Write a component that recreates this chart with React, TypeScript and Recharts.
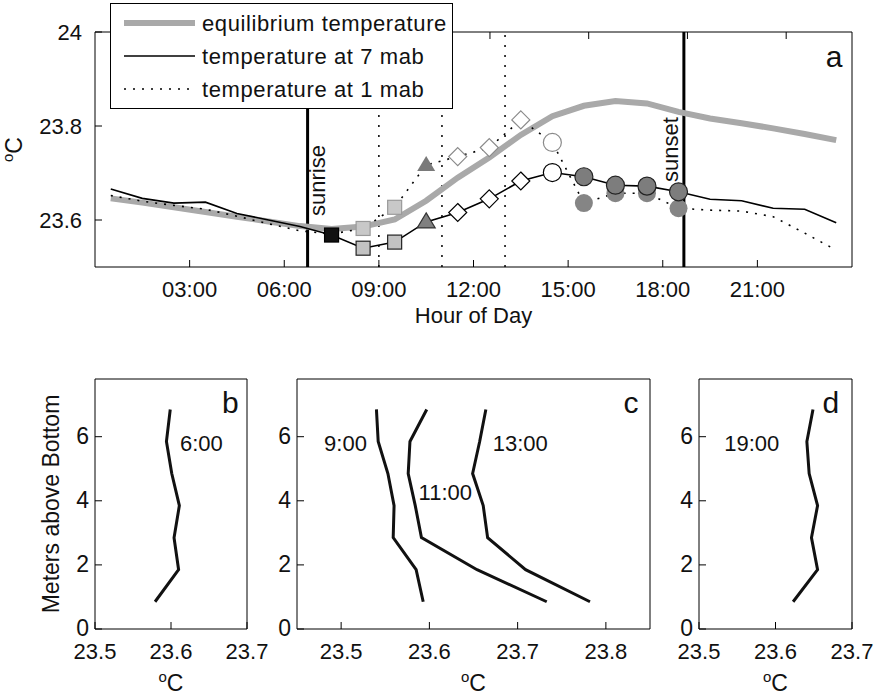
import React from 'react';
import { ComposedChart, LineChart, Line, XAxis, YAxis, ReferenceLine, ReferenceDot, Legend } from 'recharts';

const FONT = '"Liberation Sans", Arial, Helvetica, sans-serif';

// ---- panel a: daily cycle, one value at half past each hour ----
const hours = [0.5, 1.5, 2.5, 3.5, 4.5, 5.5, 6.5, 7.5, 8.5, 9.5, 10.5, 11.5, 12.5, 13.5, 14.5, 15.5, 16.5, 17.5, 18.5, 19.5, 20.5, 21.5, 22.5, 23.5];
const equilibriumTemp = [23.646, 23.637, 23.627, 23.617, 23.607, 23.597, 23.587, 23.581, 23.586, 23.601, 23.641, 23.690, 23.733, 23.781, 23.821, 23.843, 23.853, 23.848, 23.830, 23.816, 23.806, 23.795, 23.783, 23.770];
const temp7mab = [23.666, 23.646, 23.636, 23.638, 23.614, 23.600, 23.586, 23.568, 23.540, 23.553, 23.596, 23.616, 23.645, 23.683, 23.701, 23.692, 23.674, 23.672, 23.660, 23.644, 23.641, 23.625, 23.623, 23.594];
const temp1mab = [23.652, 23.640, 23.631, 23.623, 23.608, 23.592, 23.577, 23.570, 23.582, 23.627, 23.717, 23.735, 23.754, 23.813, 23.765, 23.636, 23.657, 23.657, 23.625, 23.621, 23.619, 23.607, 23.572, 23.536];
const markerKinds = ['', '', '', '', '', '', '', 'black', 'square', 'square', 'triangle', 'diamond', 'diamond', 'diamond', 'open', 'circle', 'circle', 'circle', 'circle', '', '', '', '', ''];
const hourTicks = [3, 6, 9, 12, 15, 18, 21];
const tempTicks = [23.6, 23.8, 24];
const sunrise = 6.74;
const sunset = 18.67;
const profileHours = [9, 11, 13];
const seriesNames = ['equilibrium temperature', 'temperature at 7 mab', 'temperature at 1 mab'];

// ---- panels b-d: vertical profiles ----
const depths = [6.85, 5.85, 4.85, 3.85, 2.85, 1.85, 0.85];
const profile0600 = [23.599, 23.594, 23.601, 23.611, 23.604, 23.610, 23.579];
const profile0900 = [23.540, 23.542, 23.553, 23.560, 23.559, 23.585, 23.593];
const profile1100 = [23.597, 23.578, 23.576, 23.584, 23.591, 23.654, 23.733];
const profile1300 = [23.664, 23.657, 23.649, 23.661, 23.666, 23.709, 23.782];
const profile1900 = [23.649, 23.641, 23.644, 23.655, 23.647, 23.655, 23.623];
const depthTicks = [0, 2, 4, 6];

const dayRows = hours.map((h, i) => ({ hour: h, eq: equilibriumTemp[i], t7: temp7mab[i], t1: temp1mab[i] }));
const profileRows = (temps: number[]) => temps.map((t, i) => ({ t, z: depths[i] }));

const fmtHour = (v: number) => `${String(v).padStart(2, '0')}:00`;
const fmtTemp = (v: number) => (v === 24 ? '24' : v.toFixed(1));

const TL = 7;
const tickRenderer = (side: string, fmt?: (v: number) => string, gap = 0, fs = 22, dy = 8) => (p: any) => {
  const { x, y, payload } = p;
  let l = [x, y, x, y - TL];
  if (side === 'top') l = [x, y, x, y + TL];
  if (side === 'left') l = [x, y, x + TL, y];
  if (side === 'right') l = [x, y, x - TL, y];
  let label = null;
  if (fmt) {
    label = side === 'bottom'
      ? <text x={x} y={y + gap} textAnchor="middle" fontSize={fs} fontFamily={FONT} fill="#111">{fmt(payload.value)}</text>
      : <text x={x - gap} y={y + dy} textAnchor="end" fontSize={fs} fontFamily={FONT} fill="#111">{fmt(payload.value)}</text>;
  }
  return (
    <g>
      <line x1={l[0]} y1={l[1]} x2={l[2]} y2={l[3]} stroke="#000" strokeWidth={1} />
      {label}
    </g>
  );
};

const tag = (text: string, fs: number, rotate = false, central = true) => (p: any) => {
  const { x, y } = p.viewBox || { x: 0, y: 0 };
  return (
    <text x={x} y={y} textAnchor="middle" dominantBaseline={central ? 'central' : 'auto'} fontSize={fs} fontFamily={FONT} fill="#111"
      transform={rotate ? `rotate(-90 ${x} ${y})` : undefined}>
      {text}
    </text>
  );
};

const degC = (x: number, y: number, rotate = false) => (
  <text x={x} y={y} textAnchor="middle" fontFamily={FONT} fill="#111" transform={rotate ? `rotate(-90 ${x} ${y})` : undefined}>
    <tspan fontSize={15} dy={-9}>o</tspan>
    <tspan fontSize={23} dy={9}>C</tspan>
  </text>
);

const darkStyle: any = {
  black: { fill: '#111', stroke: '#000' },
  square: { fill: '#c2c2c2', stroke: '#222' },
  triangle: { fill: '#808080', stroke: '#333' },
  diamond: { fill: '#fff', stroke: '#000' },
  open: { fill: '#fff', stroke: '#000' },
  circle: { fill: '#7d7d7d', stroke: '#222' },
};
const lightStyle: any = {
  square: { fill: '#c8c8c8', stroke: '#9a9a9a' },
  triangle: { fill: '#7a7a7a', stroke: 'none' },
  diamond: { fill: '#fff', stroke: '#8a8a8a' },
  open: { fill: '#fff', stroke: '#8a8a8a' },
  circle: { fill: '#858585', stroke: 'none' },
};

const markerDot = (kinds: string[], style: any) => (p: any) => {
  const { cx, cy, index } = p;
  const kind = kinds[index];
  const key = `m-${index}`;
  if (!kind || !style[kind]) return <g key={key} />;
  const s = { ...style[kind], strokeWidth: 1.2 };
  if (kind === 'black' || kind === 'square') return <rect key={key} x={cx - 7} y={cy - 7} width={14} height={14} {...s} />;
  if (kind === 'triangle') return <polygon key={key} points={`${cx},${cy - 9} ${cx + 9},${cy + 6} ${cx - 9},${cy + 6}`} {...s} />;
  if (kind === 'diamond') return <polygon key={key} points={`${cx},${cy - 9} ${cx + 9},${cy} ${cx},${cy + 9} ${cx - 9},${cy}`} {...s} />;
  return <circle key={key} cx={cx} cy={cy} r={9} {...s} />;
};

const LegendBox = () => (
  <svg width={343} height={106} style={{ display: 'block' }}>
    <rect x={0.5} y={0.5} width={342} height={105} fill="#fff" stroke="#000" />
    {seriesNames.map((name, i) => {
      const y = 20 + i * 33;
      const lineProps = i === 0
        ? { stroke: '#a9a9a9', strokeWidth: 6 }
        : i === 1 ? { stroke: '#000', strokeWidth: 1.6 } : { stroke: '#000', strokeWidth: 1.6, strokeDasharray: '2 7' };
      return (
        <g key={name}>
          <line x1={14} x2={85} y1={y} y2={y} {...lineProps} />
          <text x={92} y={y + 8} fontSize={22} letterSpacing={0.6} fontFamily={FONT} fill="#111">{name}</text>
        </g>
      );
    })}
  </svg>
);

function DayPanel() {
  return (
    <ComposedChart width={875} height={340} data={dayRows} margin={{ top: 31, right: 22, bottom: 72, left: 94 }}>
      <XAxis dataKey="hour" type="number" domain={[0, 24]} ticks={hourTicks} interval={0} height={1} tickSize={0} tickMargin={0}
        tickLine={false} axisLine={{ stroke: '#000' }} tick={tickRenderer('bottom', fmtHour, 30)}
        label={(p: any) => (
          <text x={p.viewBox.x + p.viewBox.width / 2} y={p.viewBox.y + 56} textAnchor="middle" fontSize={22} fontFamily={FONT} fill="#111">Hour of Day</text>
        )} />
      <XAxis xAxisId="top" orientation="top" type="number" domain={[0, 24]} ticks={hourTicks} interval={0} height={1} tickSize={0} tickMargin={0}
        tickLine={false} axisLine={{ stroke: '#000' }} tick={tickRenderer('top')} />
      <YAxis type="number" domain={[23.5, 24]} ticks={tempTicks} interval={0} width={1} tickSize={0} tickMargin={0}
        tickLine={false} axisLine={{ stroke: '#000' }} tick={tickRenderer('left', fmtTemp, 13)}
        label={(p: any) => degC(p.viewBox.x - 72, p.viewBox.y + p.viewBox.height / 2, true)} />
      <YAxis yAxisId="right" orientation="right" type="number" domain={[23.5, 24]} ticks={tempTicks} interval={0} width={1} tickSize={0} tickMargin={0}
        tickLine={false} axisLine={{ stroke: '#000' }} tick={tickRenderer('right')} />
      <ReferenceLine x={sunrise} stroke="#000" strokeWidth={3} />
      <ReferenceLine x={sunset} stroke="#000" strokeWidth={3} />
      {profileHours.map((h) => (
        <ReferenceLine key={h} x={h} stroke="#000" strokeWidth={1.5} strokeDasharray="2 8" />
      ))}
      <Line dataKey="eq" type="linear" stroke="#a9a9a9" strokeWidth={6} dot={false} isAnimationActive={false} />
      <Line dataKey="t1" type="linear" stroke="#000" strokeWidth={1.6} strokeDasharray="2 7"
        dot={markerDot(markerKinds.map((k) => (k === 'black' ? '' : k)), lightStyle)} isAnimationActive={false} />
      <Line dataKey="t7" type="linear" stroke="#000" strokeWidth={1.6} dot={markerDot(markerKinds, darkStyle)} isAnimationActive={false} />
      <ReferenceDot x={7.07} y={23.684} r={0} stroke="none" label={tag('sunrise', 22, true)} />
      <ReferenceDot x={18.23} y={23.750} r={0} stroke="none" label={tag('sunset', 22, true)} />
      <ReferenceDot x={23.43} y={23.926} r={0} stroke="none" label={tag('a', 30, false, false)} />
      <Legend layout="vertical" align="center" verticalAlign="middle" content={LegendBox}
        wrapperStyle={{ left: 110, top: 3, width: 343, height: 106 }} />
    </ComposedChart>
  );
}

const panels = [
  {
    id: 'b', left: 0, width: 290, margin: { top: 38, right: 42, bottom: 67, left: 94 }, domain: [23.5, 23.7], xticks: [23.5, 23.6, 23.7],
    profiles: [profile0600], tags: [{ text: '6:00', t: 23.640, z: 5.78 }], letterAt: 23.678, yTitle: true,
  },
  {
    id: 'c', left: 250, width: 430, margin: { top: 38, right: 29, bottom: 67, left: 46 }, domain: [23.45, 23.85], xticks: [23.5, 23.6, 23.7, 23.8],
    profiles: [profile0900, profile1100, profile1300],
    tags: [{ text: '9:00', t: 23.505, z: 5.78 }, { text: '11:00', t: 23.618, z: 4.25 }, { text: '13:00', t: 23.703, z: 5.78 }], letterAt: 23.8285, yTitle: false,
  },
  {
    id: 'd', left: 640, width: 235, margin: { top: 38, right: 22, bottom: 67, left: 58 }, domain: [23.5, 23.7], xticks: [23.5, 23.6, 23.7],
    profiles: [profile1900], tags: [{ text: '19:00', t: 23.569, z: 5.78 }], letterAt: 23.6725, yTitle: false,
  },
];

function ProfilePanel({ cfg }: { cfg: any }) {
  return (
    <div style={{ position: 'absolute', left: cfg.left, top: 340 }}>
      <LineChart width={cfg.width} height={357} margin={cfg.margin}>
        <XAxis dataKey="t" type="number" domain={cfg.domain} ticks={cfg.xticks} interval={0} height={1} tickSize={0} tickMargin={0}
          tickLine={false} axisLine={{ stroke: '#000' }} tick={tickRenderer('bottom', (v) => v.toFixed(1), 30, 22)} allowDataOverflow
          label={(p: any) => degC(p.viewBox.x + p.viewBox.width / 2, p.viewBox.y + 62)} />
        <XAxis xAxisId="top" orientation="top" type="number" domain={cfg.domain} ticks={cfg.xticks} interval={0} height={1} tickSize={0} tickMargin={0}
          tickLine={false} axisLine={{ stroke: '#000' }} tick={tickRenderer('top')} />
        <YAxis dataKey="z" type="number" domain={[0, 7.8]} ticks={depthTicks} interval={0} width={1} tickSize={0} tickMargin={0}
          tickLine={false} axisLine={{ stroke: '#000' }} tick={tickRenderer('left', (v) => String(v), 6, 23, 7)} allowDataOverflow
          label={cfg.yTitle ? (p: any) => {
            const x = p.viewBox.x - 43;
            const y = p.viewBox.y + p.viewBox.height / 2;
            return <text x={x} y={y} textAnchor="middle" dominantBaseline="central" fontSize={23} fontFamily={FONT} fill="#111" transform={`rotate(-90 ${x} ${y})`}>Meters above Bottom</text>;
          } : undefined} />
        <YAxis yAxisId="right" orientation="right" type="number" domain={[0, 7.8]} ticks={depthTicks} interval={0} width={1} tickSize={0} tickMargin={0}
          tickLine={false} axisLine={{ stroke: '#000' }} tick={tickRenderer('right')} />
        {cfg.profiles.map((temps: number[], i: number) => (
          <Line key={i} data={profileRows(temps)} dataKey="z" type="linear" stroke="#111" strokeWidth={3} dot={false} isAnimationActive={false} />
        ))}
        {cfg.tags.map((tg: any) => (
          <ReferenceDot key={tg.text} x={tg.t} y={tg.z} r={0} stroke="none" label={tag(tg.text, 22)} />
        ))}
        <ReferenceDot x={cfg.letterAt} y={6.75} r={0} stroke="none" label={tag(cfg.id, 30, false, false)} />
      </LineChart>
    </div>
  );
}

export default function App() {
  return (
    <div style={{ position: 'absolute', left: 0, top: 0, width: 875, height: 697, overflow: 'hidden', background: '#fff', fontFamily: FONT }}>
      <div style={{ position: 'absolute', left: 0, top: 0 }}>
        <DayPanel />
      </div>
      {panels.map((cfg) => (
        <ProfilePanel key={cfg.id} cfg={cfg} />
      ))}
    </div>
  );
}
